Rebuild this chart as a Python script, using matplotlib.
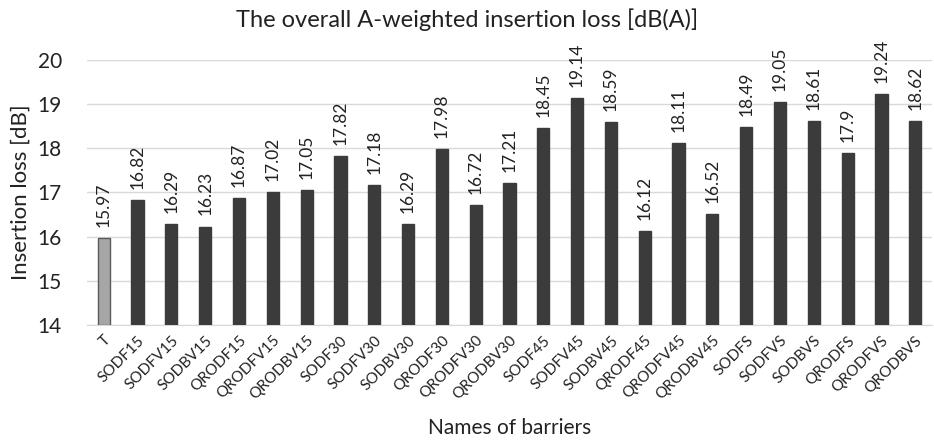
import numpy as np
import matplotlib.pyplot as plt

plt.rcParams['font.family'] = ['Lato', 'DejaVu Sans']

names = ['T', 'SODF15', 'SODFV15', 'SODBV15', 'QRODF15', 'QRODFV15', 'QRODBV15',
         'SODF30', 'SODFV30', 'SODBV30', 'QRODF30', 'QRODFV30', 'QRODBV30',
         'SODF45', 'SODFV45', 'SODBV45', 'QRODF45', 'QRODFV45', 'QRODBV45',
         'SODFS', 'SODFVS', 'SODBVS', 'QRODFS', 'QRODFVS', 'QRODBVS']
loss = [15.97, 16.82, 16.29, 16.23, 16.87, 17.02, 17.05,
        17.82, 17.18, 16.29, 17.98, 16.72, 17.21,
        18.45, 19.14, 18.59, 16.12, 18.11, 16.52,
        18.49, 19.05, 18.61, 17.9, 19.24, 18.62]
labels = ['15.97', '16.82', '16.29', '16.23', '16.87', '17.02', '17.05',
          '17.82', '17.18', '16.29', '17.98', '16.72', '17.21',
          '18.45', '19.14', '18.59', '16.12', '18.11', '16.52',
          '18.49', '19.05', '18.61', '17.9', '19.24', '18.62']

fig = plt.figure(figsize=(9.34, 4.41), dpi=100)
ax = fig.add_axes([0.093, 0.263, 0.905, 0.601])

x = np.arange(len(names))
base = 14
colors = ['#a6a6a6'] + ['#3b3b3b'] * (len(names) - 1)
edges = ['#5a5a5a'] + ['#3b3b3b'] * (len(names) - 1)
ax.bar(x, np.array(loss) - base, bottom=base, width=0.36, color=colors,
       edgecolor=edges, linewidth=1, zorder=3)

for xi, v, t in zip(x, loss, labels):
    ax.text(xi, v + 0.25, t, rotation=90, ha='center', va='bottom',
            fontsize=12.5, color='#222222')

ax.set_xlim(-0.5, len(names) - 0.5)
ax.set_ylim(14, 20)
ax.set_yticks(np.arange(14, 21, 1))
ax.yaxis.grid(True, color='#d9d9d9', linewidth=1, zorder=0)
ax.set_axisbelow(True)
for s in ['top', 'right', 'left']:
    ax.spines[s].set_visible(False)
ax.spines['bottom'].set_color('#d9d9d9')
ax.tick_params(axis='y', length=0, labelsize=15, pad=18, labelcolor='#222222')
ax.tick_params(axis='x', length=0, labelsize=11, pad=6, labelcolor='#222222')
ax.set_xticks(x)
ax.set_xticklabels(names, rotation=45, ha='right', rotation_mode='anchor')

ax.set_ylabel('Insertion loss [dB]', fontsize=16, labelpad=5, color='#222222')
ax.set_xlabel('Names of barriers', fontsize=15, labelpad=11, color='#222222')
fig.suptitle('The overall A-weighted insertion loss [dB(A)]', x=0.5, y=0.955,
             va='center', fontsize=17, color='#222222')

fig.savefig('out.png', dpi=100)
